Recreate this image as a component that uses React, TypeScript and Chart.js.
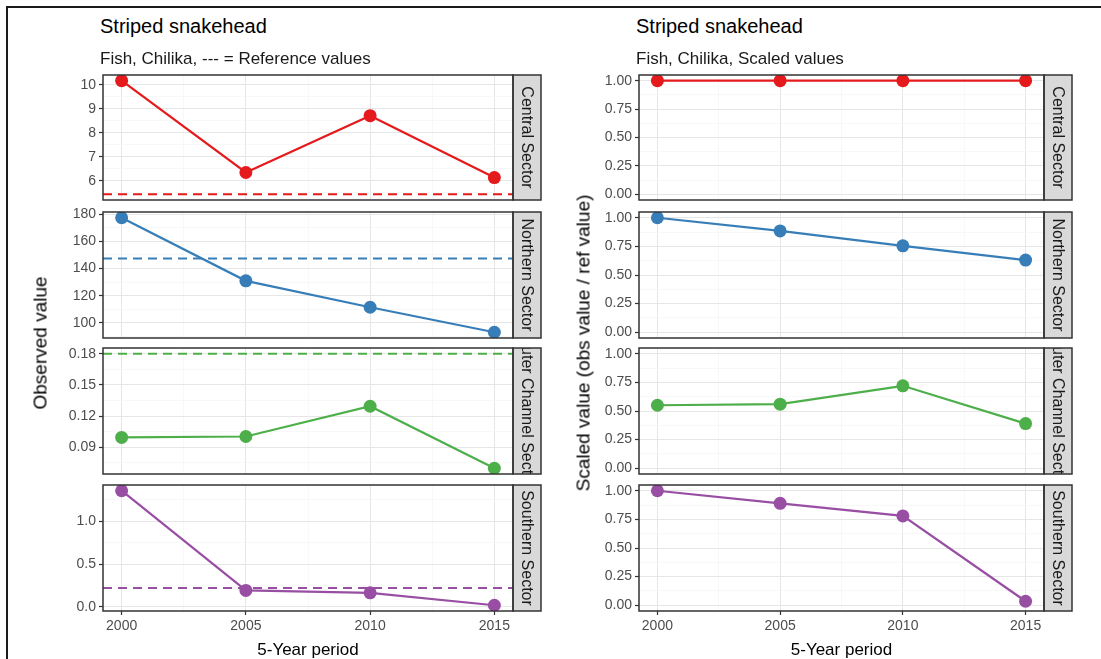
import React, { useEffect, useRef } from "react";
import { Chart, registerables } from "chart.js";
Chart.register(...registerables);

// ---------------- data ----------------
const years = [2000, 2005, 2010, 2015];
const xTicks = [2000, 2005, 2010, 2015];
const sectors = ["Central Sector", "Northern Sector", "Outer Channel Sector", "Southern Sector"];
const colors = ["#E41A1C", "#377EB8", "#4DAF4A", "#984EA3"];

const centralObs = [10.18, 6.35, 8.72, 6.14];
const northernObs = [177.3, 130.9, 111.5, 93.1];
const outerObs = [0.0994, 0.1003, 0.1294, 0.0697];
const southernObs = [1.353, 0.193, 0.165, 0.02];
const refValues = [5.44, 147.3, 0.18, 0.222];

const centralScaled = [1.0, 1.0, 1.0, 1.0];
const northernScaled = [1.0, 0.885, 0.755, 0.63];
const outerScaled = [0.55, 0.56, 0.72, 0.39];
const southernScaled = [1.0, 0.89, 0.78, 0.035];

const obsTicks = [
  [6, 7, 8, 9, 10],
  [100, 120, 140, 160, 180],
  [0.09, 0.12, 0.15, 0.18],
  [0.0, 0.5, 1.0],
];
const obsDecimals = [0, 0, 2, 1];
const scaledTicks = [0, 0.25, 0.5, 0.75, 1];
const scaledDecimals = 2;

const obsSeries = [centralObs, northernObs, outerObs, southernObs];
const scaledSeries = [centralScaled, northernScaled, outerScaled, southernScaled];

// ---------------- layout ----------------
const FONT = "'Liberation Sans', Arial, Helvetica, sans-serif";
const panelTops = [75, 212, 348, 485];
const panelBottoms = [200, 338, 474, 611];
const leftCol = { l: 103, r: 513 };
const rightCol = { l: 639, r: 1044 };
const STRIP_W = 28;

Chart.defaults.font.family = FONT;

type Tick = { value: number; isMaj: boolean };

function withMinors(majors: number[], lo: number, hi: number): Tick[] {
  const step = majors[1] - majors[0];
  const out: Tick[] = majors.map((v) => ({ value: v, isMaj: true }));
  for (let i = -1; i < majors.length; i++) {
    const m = majors[0] + (i + 0.5) * step;
    if (m > lo && m < hi) out.push({ value: m, isMaj: false });
  }
  out.sort((a, b) => a.value - b.value);
  return out;
}

function expandRange(vals: number[]): [number, number] {
  const lo = Math.min(...vals);
  const hi = Math.max(...vals);
  const d = (hi - lo) * 0.05;
  return [lo - d, hi + d];
}

type PanelProps = {
  values: number[];
  refVal?: number;
  majors: number[];
  decimals: number;
  color: string;
  strip: string;
  area: { l: number; t: number; r: number; b: number };
  showX: boolean;
  yRange: [number, number];
};

function Panel(p: PanelProps) {
  const ref = useRef<HTMLCanvasElement>(null);
  const YW = 60;
  const PADT = 12;
  const PADR = 44;
  const XH = 32;
  const cLeft = p.area.l - YW;
  const cTop = p.area.t - PADT;
  const cW = p.area.r - p.area.l + YW + PADR;
  const cH = p.area.b - p.area.t + PADT + (p.showX ? XH : 12);

  useEffect(() => {
    const span = years[years.length - 1] - years[0];
    const xMin = years[0] - 0.05 * span;
    const xMax = years[years.length - 1] + 0.05 * span;
    const [yMin, yMax] = p.yRange;
    const xTickList = withMinors(xTicks, xMin, xMax);
    const yTickList = withMinors(p.majors, yMin, yMax);

    const datasets: any[] = [
      {
        data: years.map((x, i) => ({ x, y: p.values[i] })),
        borderColor: p.color,
        backgroundColor: p.color,
        pointBackgroundColor: p.color,
        pointBorderColor: p.color,
        pointBorderWidth: 0,
        pointRadius: 6.5,
        borderWidth: 2.2,
        tension: 0,
        clip: 0,
      },
    ];
    if (p.refVal !== undefined) {
      datasets.push({
        data: [
          { x: xMin, y: p.refVal },
          { x: xMax, y: p.refVal },
        ],
        borderColor: p.color,
        borderDash: [9, 6],
        borderWidth: 2,
        pointRadius: 0,
        clip: 0,
      });
    }

    const stripPlugin = {
      id: "panelDecor",
      afterDraw(chart: any) {
        const { left, top, right, bottom } = chart.chartArea;
        const ctx = chart.ctx;
        ctx.save();
        ctx.fillStyle = "#d9d9d9";
        ctx.fillRect(right, top, STRIP_W, bottom - top);
        ctx.beginPath();
        ctx.rect(right, top, STRIP_W, bottom - top);
        ctx.clip();
        ctx.translate(right + STRIP_W / 2, (top + bottom) / 2);
        ctx.rotate(Math.PI / 2);
        ctx.fillStyle = "#1a1a1a";
        ctx.font = `16px ${FONT}`;
        ctx.textAlign = "center";
        ctx.textBaseline = "middle";
        ctx.fillText(p.strip, 0, 1);
        ctx.restore();
        ctx.save();
        ctx.strokeStyle = "#333333";
        ctx.lineWidth = 1.5;
        ctx.strokeRect(right, top, STRIP_W, bottom - top);
        ctx.strokeRect(left, top, right - left, bottom - top);
        ctx.restore();
      },
    };

    const gridOpts = (showTicks: boolean) => ({
      color: (c: any) => (c.tick && c.tick.isMaj ? "#e6e6e6" : "#f3f3f3"),
      lineWidth: (c: any) => (c.tick && c.tick.isMaj ? 1 : 0.6),
      tickColor: (c: any) => (c.tick && c.tick.isMaj ? "#333333" : "rgba(0,0,0,0)"),
      tickWidth: (c: any) => (c.tick && c.tick.isMaj ? 1.2 : 0),
      tickLength: 4,
      drawTicks: showTicks,
      drawOnChartArea: true,
    });

    const chart = new Chart(ref.current!, {
      type: "line",
      data: { datasets },
      options: {
        animation: false,
        responsive: false,
        devicePixelRatio: 1,
        events: [],
        layout: { padding: { top: PADT, right: PADR, bottom: p.showX ? 0 : 12, left: 0 } },
        plugins: { legend: { display: false }, tooltip: { enabled: false } },
        scales: {
          x: {
            type: "linear",
            min: xMin,
            max: xMax,
            border: { display: false },
            grid: gridOpts(p.showX) as any,
            ticks: {
              display: p.showX,
              autoSkip: false,
              maxRotation: 0,
              padding: 3,
              color: "#4d4d4d",
              font: { size: 14, family: FONT },
              callback: (v: any, i: number, ticks: any[]) =>
                ticks[i] && ticks[i].isMaj ? String(Math.round(Number(v))) : "",
            },
            afterBuildTicks: (s: any) => {
              s.ticks = xTickList.map((t) => ({ ...t }));
            },
            afterFit: (s: any) => {
              s.height = p.showX ? XH : 0;
            },
          },
          y: {
            type: "linear",
            min: yMin,
            max: yMax,
            border: { display: false },
            grid: gridOpts(true) as any,
            ticks: {
              autoSkip: false,
              padding: 3,
              color: "#4d4d4d",
              font: { size: 14, family: FONT },
              callback: (v: any, i: number, ticks: any[]) =>
                ticks[i] && ticks[i].isMaj ? Number(v).toFixed(p.decimals) : "",
            },
            afterBuildTicks: (s: any) => {
              s.ticks = yTickList.map((t) => ({ ...t }));
            },
            afterFit: (s: any) => {
              s.width = YW;
            },
          },
        },
      },
      plugins: [stripPlugin],
    } as any);
    return () => chart.destroy();
  }, []);

  return (
    <canvas
      ref={ref}
      width={cW}
      height={cH}
      style={{ position: "absolute", left: cLeft, top: cTop, width: cW, height: cH }}
    />
  );
}

const textBase: React.CSSProperties = {
  position: "absolute",
  fontFamily: FONT,
  whiteSpace: "nowrap",
  color: "#000",
};

function HText(props: { x: number; cy: number; size: number; text: string; center?: boolean; color?: string }) {
  return (
    <div
      style={{
        ...textBase,
        left: props.x,
        top: props.cy - props.size / 2,
        fontSize: props.size,
        lineHeight: `${props.size}px`,
        color: props.color || "#000",
        transform: props.center ? "translateX(-50%)" : undefined,
      }}
    >
      {props.text}
    </div>
  );
}

function VText(props: { cx: number; cy: number; size: number; text: string }) {
  return (
    <div
      style={{
        ...textBase,
        left: props.cx,
        top: props.cy,
        fontSize: props.size,
        lineHeight: `${props.size}px`,
        transform: "translate(-50%, -50%) rotate(-90deg)",
      }}
    >
      {props.text}
    </div>
  );
}

export default function App() {
  const leftYR = sectors.map((_, i) => expandRange([...obsSeries[i], refValues[i]]));
  const scaledYR: [number, number] = [-0.05, 1.05];
  return (
    <div
      style={{
        position: "absolute",
        left: 0,
        top: 0,
        width: 1101,
        height: 659,
        background: "#ffffff",
        overflow: "hidden",
      }}
    >
      {sectors.map((s, i) => (
        <Panel
          key={"L" + i}
          values={obsSeries[i]}
          refVal={refValues[i]}
          majors={obsTicks[i]}
          decimals={obsDecimals[i]}
          color={colors[i]}
          strip={s}
          area={{ l: leftCol.l, r: leftCol.r, t: panelTops[i], b: panelBottoms[i] }}
          showX={i === sectors.length - 1}
          yRange={leftYR[i]}
        />
      ))}
      {sectors.map((s, i) => (
        <Panel
          key={"R" + i}
          values={scaledSeries[i]}
          majors={scaledTicks}
          decimals={scaledDecimals}
          color={colors[i]}
          strip={s}
          area={{ l: rightCol.l, r: rightCol.r, t: panelTops[i], b: panelBottoms[i] }}
          showX={i === sectors.length - 1}
          yRange={scaledYR}
        />
      ))}

      {/* outer frame */}
      <div style={{ position: "absolute", left: 6, top: 6, width: 1095, height: 2, background: "#1a1a1a" }} />
      <div style={{ position: "absolute", left: 6, top: 6, width: 2, height: 653, background: "#1a1a1a" }} />

      {/* titles */}
      <HText x={leftCol.l - 3} cy={26} size={20} text="Striped snakehead" />
      <HText x={leftCol.l - 3} cy={58} size={17} text="Fish, Chilika, --- = Reference values" color="#1a1a1a" />
      <HText x={rightCol.l - 3} cy={26} size={20} text="Striped snakehead" />
      <HText x={rightCol.l - 3} cy={58} size={17} text="Fish, Chilika, Scaled values" color="#1a1a1a" />

      {/* axis titles */}
      <VText cx={40} cy={343} size={19} text="Observed value" />
      <VText cx={583} cy={343} size={19} text="Scaled value (obs value / ref value)" />
      <HText x={(leftCol.l + leftCol.r) / 2} cy={649} size={17} text="5-Year period" center />
      <HText x={(rightCol.l + rightCol.r) / 2} cy={649} size={17} text="5-Year period" center />
    </div>
  );
}
